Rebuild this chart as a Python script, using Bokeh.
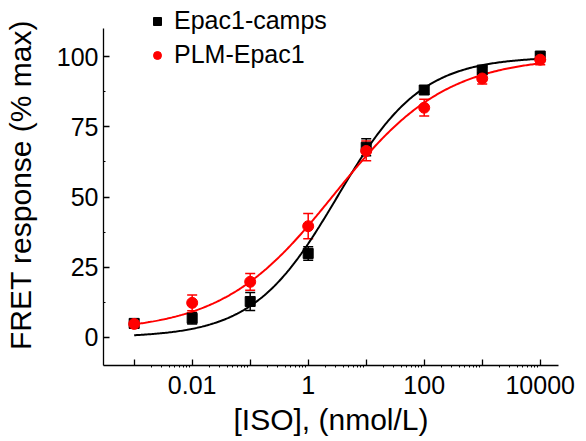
import numpy as np
from bokeh.plotting import figure
from bokeh.models import (ColumnDataSource, FixedTicker, CustomJSTickFormatter,
                          Whisker, TeeHead, Legend, LegendItem, Range1d)
from bokeh.embed import file_html
from bokeh.resources import INLINE

# ---- data ----
conc = [0.001, 0.01, 0.1, 1, 10, 100, 1000, 10000]
epac_y = [5.0, 6.8, 12.8, 29.9, 67.7, 88.1, 95.2, 100.2]
epac_err = [1.5, 2.0, 3.2, 2.4, 3.0, 1.5, 1.0, 1.0]
plm_y = [4.8, 12.3, 19.8, 39.6, 66.4, 81.8, 92.2, 98.9]
plm_err = [1.5, 2.8, 3.0, 4.5, 3.5, 3.0, 2.0, 1.8]

# Hill-fit parameters (bottom, top, logEC50, hill slope)
epac_fit = [0.0, 100.0, 0.5, 0.6]
plm_fit = [2.0, 100.0, 0.45, 0.45]

x_major = [0.001, 0.01, 0.1, 1, 10, 100, 1000, 10000]
y_major = [0, 25, 50, 75, 100]
y_minor = [12.5, 37.5, 62.5, 87.5]
y_axis_span = (-10, 110)

FONT = "Liberation Sans"
RED = "#ff0000"
BLACK = "#000000"


def hill(xs, params):
    b, t, l, n = params
    return b + (t - b) / (1 + 10 ** ((l - np.log10(xs)) * n))


# frame extends a little above the axis so the legend is not clipped
TOP_BORDER = 4
px_per_unit = 337.0 / (y_axis_span[1] - y_axis_span[0])
y_top = y_axis_span[1] + (28 - TOP_BORDER) / px_per_unit

p = figure(width=580, height=441, x_axis_type="log",
           x_range=Range1d(2.96e-4, 20650), y_range=Range1d(y_axis_span[0], y_top),
           output_backend="svg", toolbar_location=None,
           min_border_left=102, min_border_right=22, min_border_top=TOP_BORDER,
           min_border_bottom=76)
p.outline_line_color = None
p.grid.visible = False
p.background_fill_color = "white"
p.border_fill_color = "white"

# curves
xs = np.logspace(np.log10(conc[0]), np.log10(conc[-1]), 300)
p.line(xs, hill(xs, epac_fit), line_color=BLACK, line_width=2)
p.line(xs, hill(xs, plm_fit), line_color=RED, line_width=2)

src_e = ColumnDataSource(dict(x=conc, y=epac_y,
                              lo=[y - e for y, e in zip(epac_y, epac_err)],
                              hi=[y + e for y, e in zip(epac_y, epac_err)]))
src_p = ColumnDataSource(dict(x=conc, y=plm_y,
                              lo=[y - e for y, e in zip(plm_y, plm_err)],
                              hi=[y + e for y, e in zip(plm_y, plm_err)]))

w_e = Whisker(source=src_e, base="x", lower="lo", upper="hi", dimension="height",
              line_color=BLACK, line_width=1.5,
              upper_head=TeeHead(size=10, line_color=BLACK, line_width=1.5),
              lower_head=TeeHead(size=10, line_color=BLACK, line_width=1.5))
p.add_layout(w_e)
r_e = p.scatter("x", "y", source=src_e, marker="square", size=10,
                fill_color=BLACK, line_color=BLACK)

w_p = Whisker(source=src_p, base="x", lower="lo", upper="hi", dimension="height",
              line_color=RED, line_width=1.5,
              upper_head=TeeHead(size=10, line_color=RED, line_width=1.5),
              lower_head=TeeHead(size=10, line_color=RED, line_width=1.5))
p.add_layout(w_p)
r_p = p.scatter("x", "y", source=src_p, marker="circle", size=11,
                fill_color=RED, line_color=RED)

# axes
xa = p.xaxis[0]
xa.ticker = FixedTicker(ticks=x_major,
                        minor_ticks=[k * d for d in x_major[:-1] for k in range(2, 10)])
xa.formatter = CustomJSTickFormatter(code="""
const e = Math.round(Math.log10(tick));
if (e % 2 !== 0) { return ""; }
return e < 0 ? tick.toFixed(-e) : String(Math.round(tick));
""")
ya = p.yaxis[0]
ya.ticker = FixedTicker(ticks=y_major, minor_ticks=y_minor)
ya.bounds = y_axis_span

for ax in (xa, ya):
    ax.axis_line_color = BLACK
    ax.axis_line_width = 1.3
    ax.major_tick_line_color = BLACK
    ax.major_tick_line_width = 1.3
    ax.minor_tick_line_color = BLACK
    ax.major_tick_in = 6
    ax.major_tick_out = 0
    ax.major_label_text_font = FONT
    ax.major_label_text_font_size = "25px"
    ax.major_label_text_color = BLACK
    ax.axis_label_text_font = FONT
    ax.axis_label_text_font_size = "30px"
    ax.axis_label_text_font_style = "normal"
    ax.axis_label_text_color = BLACK

xa.minor_tick_in = 0
xa.minor_tick_out = 2
ya.minor_tick_in = 2
ya.minor_tick_out = 0
xa.major_label_standoff = 8
ya.major_label_standoff = 5
xa.axis_label = "[ISO], (nmol/L)"
ya.axis_label = "FRET response (% max)"
xa.axis_label_standoff = 6
ya.axis_label_standoff = 17

legend = Legend(items=[LegendItem(label="Epac1-camps", renderers=[r_e]),
                       LegendItem(label="PLM-Epac1", renderers=[r_p])],
                location=(44, 296))
legend.background_fill_alpha = 0
legend.border_line_color = None
legend.padding = 0
legend.margin = 0
legend.spacing = 5
legend.glyph_width = 20
legend.glyph_height = 28
legend.label_height = 28
legend.label_standoff = 7
legend.label_text_font = FONT
legend.label_text_font_size = "25px"
legend.label_text_color = BLACK
p.add_layout(legend, "center")

open("out.html", "w").write(file_html(p, INLINE))
